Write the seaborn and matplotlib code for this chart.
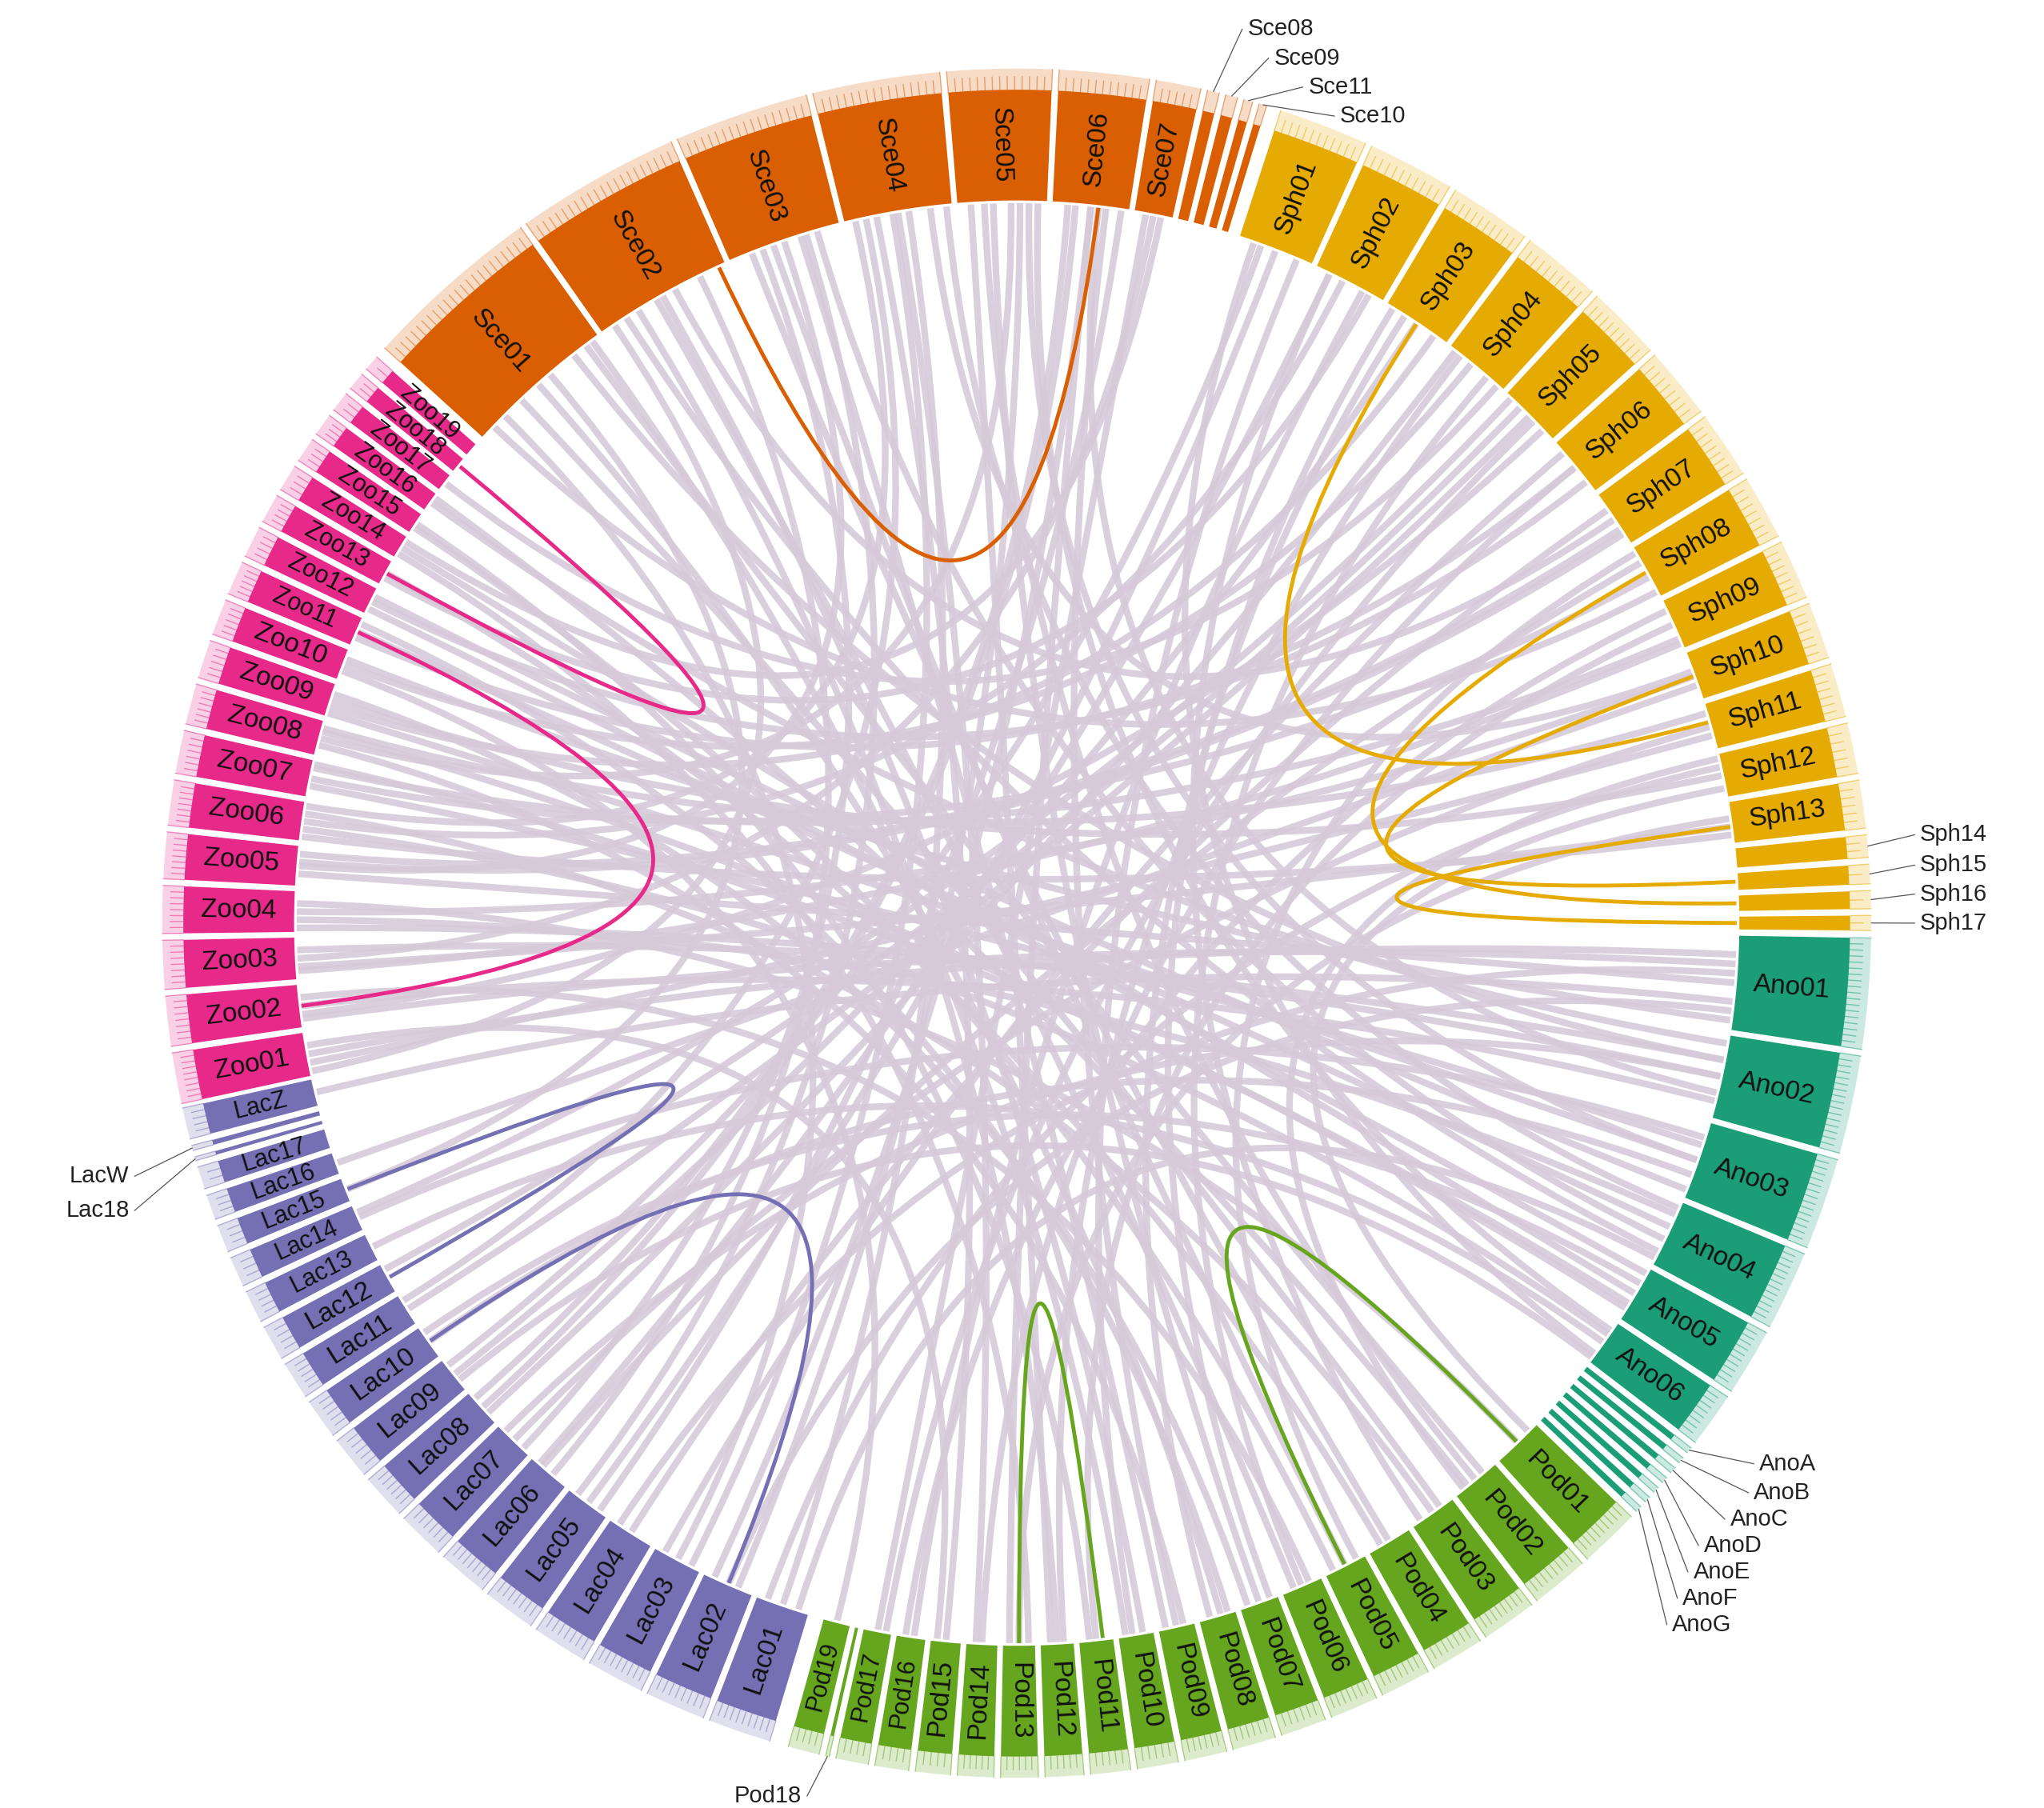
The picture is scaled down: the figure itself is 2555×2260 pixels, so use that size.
import numpy as np
import matplotlib
matplotlib.use("Agg")
import matplotlib.pyplot as plt
import seaborn as sns
from matplotlib.patches import PathPatch
from matplotlib.path import Path

sns.set_theme(style="white")
plt.rcParams['font.family'] = ['Liberation Sans', 'DejaVu Sans']

sce_names = "Sce01 Sce02 Sce03 Sce04 Sce05 Sce06 Sce07 Sce08 Sce09 Sce11 Sce10".split()
sce_len = [12, 11, 9, 8.5, 7, 6, 3, 0.8, 0.8, 0.6, 0.5]
sph_names = "Sph01 Sph02 Sph03 Sph04 Sph05 Sph06 Sph07 Sph08 Sph09 Sph10 Sph11 Sph12 Sph13 Sph14 Sph15 Sph16 Sph17".split()
sph_len = [6, 5.8, 5.5, 5.3, 5, 4.8, 4.5, 4.3, 4, 3.8, 3.6, 3.4, 3.2, 1.5, 1.3, 1.2, 1.0]
ano_names = "Ano01 Ano02 Ano03 Ano04 Ano05 Ano06 AnoA AnoB AnoC AnoD AnoE AnoF AnoG".split()
ano_len = [9, 8, 7.5, 6.5, 5.5, 4.5, 0.5, 0.5, 0.5, 0.5, 0.5, 0.5, 0.5]
pod_names = "Pod01 Pod02 Pod03 Pod04 Pod05 Pod06 Pod07 Pod08 Pod09 Pod10 Pod11 Pod12 Pod13 Pod14 Pod15 Pod16 Pod17 Pod18 Pod19".split()
pod_len = [5, 4.8, 4.6, 4.4, 4.2, 4, 3.8, 3.6, 3.5, 3.4, 3.3, 3.2, 3.1, 3.0, 2.9, 2.8, 2.7, 0.3, 2.6]
lac_names = "Lac01 Lac02 Lac03 Lac04 Lac05 Lac06 Lac07 Lac08 Lac09 Lac10 Lac11 Lac12 Lac13 Lac14 Lac15 Lac16 Lac17 Lac18 LacW LacZ".split()
lac_len = [5, 4.8, 4.6, 4.4, 4.2, 4, 3.8, 3.6, 3.4, 3.2, 3, 2.8, 2.6, 2.4, 2.2, 2.0, 1.8, 0.3, 0.4, 2.5]
zoo_names = "Zoo01 Zoo02 Zoo03 Zoo04 Zoo05 Zoo06 Zoo07 Zoo08 Zoo09 Zoo10 Zoo11 Zoo12 Zoo13 Zoo14 Zoo15 Zoo16 Zoo17 Zoo18 Zoo19".split()
zoo_len = [4.5, 4.4, 4.3, 4.2, 4.1, 4, 3.8, 3.6, 3.4, 3.2, 3, 2.8, 2.6, 2.4, 2.2, 2, 1.8, 1.6, 1.4]

group_span = [(137.7, 73.0), (72.0, -0.5), (-1.0, -43.5), (-44.0, -105.5), (-106.8, -167.5), (-167.8, -221.5)]

grey_links = """Sce01 .2 Lac03 .5;Sce01 .5 Pod08 .4;Sce01 .8 Ano02 .3;Sce02 .3 Pod12 .5;Sce02 .6 Sph07 .5;
Sce02 .8 Lac06 .4;Sce03 .2 Pod04 .5;Sce03 .5 Zoo05 .5;Sce03 .8 Ano04 .6;Sce04 .3 Pod15 .5;Sce04 .6 Lac01 .5;
Sce04 .8 Sph10 .4;Sce05 .3 Pod02 .5;Sce05 .6 Zoo08 .5;Sce05 .8 Ano03 .5;Sce06 .3 Lac08 .5;Sce06 .7 Pod09 .5;
Sce07 .5 Zoo03 .5;Sph01 .5 Lac05 .5;Sph01 .8 Pod10 .6;Sph02 .4 Zoo06 .5;Sph02 .7 Pod16 .4;Sph03 .5 Lac09 .5;
Sph04 .4 Zoo10 .5;Sph04 .7 Pod06 .5;Sph05 .5 Lac11 .5;Sph05 .8 Zoo02 .3;Sph06 .5 Pod14 .5;Sph06 .8 Zoo12 .5;
Sph07 .3 Lac04 .5;Sph08 .6 Zoo07 .5;Sph09 .5 Pod11 .5;Sph10 .5 Zoo04 .5;Sph11 .5 Lac07 .5;Sph12 .5 Zoo09 .5;
Sph13 .4 Pod13 .5;Ano01 .2 Zoo01 .5;Ano01 .5 Zoo05 .3;Ano01 .8 Lac02 .5;Ano02 .3 Zoo03 .7;Ano02 .7 Sce06 .6;
Ano03 .3 Zoo07 .3;Ano03 .7 Lac10 .5;Ano04 .4 Zoo11 .5;Ano04 .8 Sce02 .2;Ano05 .5 Zoo14 .5;Ano06 .5 Lac13 .5;
Pod01 .5 Zoo04 .7;Pod02 .3 Sce01 .9;Pod03 .5 Zoo06 .7;Pod03 .8 Sph02 .2;Pod04 .7 Zoo13 .5;Pod05 .5 Sce03 .4;
Pod06 .3 Zoo02 .7;Pod07 .5 Sce05 .4;Pod07 .8 Zoo09 .7;Pod08 .7 Sph03 .3;Pod09 .3 Zoo08 .3;Pod10 .3 Sce02 .5;
Pod11 .7 Zoo15 .5;Pod12 .3 Sph04 .2;Pod14 .7 Sce04 .5;Pod15 .8 Zoo01 .7;Pod16 .7 Sph09 .2;Pod17 .5 Sce07 .3;
Pod19 .5 Zoo10 .3;Lac01 .8 Sph12 .3;Lac02 .3 Sce05 .7;Lac03 .8 Sph06 .2;Lac04 .8 Ano01 .4;Lac05 .8 Sce03 .7;
Lac06 .7 Sph08 .3;Lac07 .8 Ano02 .5;Lac08 .8 Sce06 .2;Lac09 .8 Sph01 .3;Lac10 .8 Ano05 .3;Lac11 .8 Sce04 .2;
Lac12 .8 Sph05 .3;Lac14 .5 Ano03 .2;Lac15 .5 Sce01 .6;Lac16 .5 Sph10 .7;LacZ .5 Ano01 .7;Zoo01 .3 Sph11 .7;
Zoo02 .5 Ano02 .8;Zoo03 .3 Sph13 .6;Zoo04 .3 Ano04 .2;Zoo05 .8 Sph07 .7;Zoo06 .3 Ano06 .3;Zoo07 .8 Sph09 .8;
Zoo08 .7 Ano05 .8;Zoo09 .3 Sph03 .8;Zoo10 .7 Ano01 .9;Zoo11 .3 Sph06 .5;Zoo12 .7 Ano03 .9;Zoo13 .3 Sph02 .8;
Zoo14 .8 Sce07 .7;Zoo16 .5 Ano02 .1;Zoo17 .5 Sph04 .9;Zoo15 .3 Pod05 .8;Zoo16 .8 Pod02 .7;Sce01 .1 Sph08 .9;
Sce06 .9 Lac05 .2;Sph01 .2 Ano06 .8;Sph12 .8 Pod01 .2;Sce02 .1 Zoo01 .1;Sph05 .1 Lac14 .7;Ano04 .9 Lac01 .2;
Sce03 .3 Lac07 .2;Sce04 .1 Zoo06 .9;Sph03 .1 Pod07 .2;Ano05 .1 Zoo12 .2;Pod13 .8 Sce06 .5;Lac09 .3 Ano06 .9;
Sce01 .35 Pod03 .3;Sce02 .45 Pod06 .7;Sce03 .65 Pod09 .8;Sce05 .15 Pod12 .7;Sce04 .45 Lac03 .2;Sce06 .5 Lac02 .8;
Sph02 .2 Lac06 .8;Sph04 .1 Lac08 .3;Sph07 .8 Zoo05 .6;Sph09 .9 Zoo03 .2;Sph11 .2 Zoo08 .8;Sph13 .8 Zoo06 .1;
Ano01 .3 Zoo02 .2;Ano02 .5 Zoo04 .1;Ano03 .5 Zoo09 .1;Ano05 .7 Zoo07 .9;Ano06 .2 Sce05 .9;Ano04 .1 Sce04 .95;
Pod02 .8 Sph12 .1;Pod05 .2 Sph08 .1;Pod08 .2 Zoo11 .8;Pod10 .8 Sce01 .95;Pod13 .2 Zoo14 .2;Pod17 .2 Sph05 .6"""

color_links = [("Sce02", .95, "Sce06", .6, 0), ("Sph03", .5, "Sph11", .4, 1), ("Sph08", .5, "Sph16", .5, 1),
               ("Sph13", .6, "Sph17", .5, 1), ("Sph10", .5, "Sph15", .5, 1),
               ("Zoo18", .5, "Zoo13", .5, 5), ("Zoo11", .5, "Zoo02", .5, 5),
               ("Lac15", .5, "Lac12", .5, 4), ("Lac10", .5, "Lac02", .5, 4),
               ("Pod13", .5, "Pod11", .3, 3), ("Pod05", .5, "Pod01", .5, 3)]

outside = {"Sce08": (942, 22, 'left'), "Sce09": (962, 44, 'left'), "Sce11": (988, 66, 'left'),
           "Sce10": (1012, 88, 'left'), "Sph14": (1452, 633, 'left'), "Sph15": (1452, 656, 'left'),
           "Sph16": (1452, 678, 'left'), "Sph17": (1452, 700, 'left'), "AnoA": (1330, 1110, 'left'),
           "AnoB": (1326, 1132, 'left'), "AnoC": (1308, 1152, 'left'), "AnoD": (1288, 1172, 'left'),
           "AnoE": (1280, 1192, 'left'), "AnoF": (1272, 1212, 'left'), "AnoG": (1264, 1232, 'left'),
           "Pod18": (612, 1362, 'right'), "LacW": (102, 892, 'right'), "Lac18": (102, 918, 'right')}

pal = sns.color_palette("Dark2", 6)
gcol = [pal[1], pal[5], pal[0], pal[4], pal[2], pal[3]]
groups = [(sce_names, sce_len, gcol[0]), (sph_names, sph_len, gcol[1]), (ano_names, ano_len, gcol[2]),
          (pod_names, pod_len, gcol[3]), (lac_names, lac_len, gcol[4]), (zoo_names, zoo_len, gcol[5])]

cx, cy = 771, 700
R0, R1, R2 = 548, 632, 648
gap = 0.45
chrom = {}
for (names, lens, c), (gs, ge) in zip(groups, group_span):
    unit = ((gs - ge) - gap * (len(names) - 1)) / sum(lens)
    a = gs
    for n, l in zip(names, lens):
        chrom[n] = (a, a - l * unit, c, l)
        a -= l * unit + gap

def pt(ang, r):
    t = np.deg2rad(ang)
    return cx + r * np.cos(t), cy - r * np.sin(t)

def pos(n, f):
    a0, a1, _, _ = chrom[n]
    return a0 + (a1 - a0) * f

fig = plt.figure(figsize=(25.55, 22.6), dpi=100)
ax = fig.add_axes([0, 0, 1, 1])
ax.set_xlim(0, 1550)
ax.set_ylim(1371, 0)
ax.set_aspect('equal')
ax.axis('off')

def link(n1, f1, n2, f2, col, lw, k, alpha, z):
    p1 = np.array(pt(pos(n1, f1), R0 - 2))
    p2 = np.array(pt(pos(n2, f2), R0 - 2))
    c = np.array([cx, cy]) + ((p1 + p2) / 2 - np.array([cx, cy])) * k
    path = Path([p1, c, p2], [Path.MOVETO, Path.CURVE3, Path.CURVE3])
    ax.add_patch(PathPatch(path, fc='none', ec=col, lw=lw, alpha=alpha, zorder=z))

for s in grey_links.replace("\n", "").split(";"):
    n1, f1, n2, f2 = s.split()
    link(n1, float(f1), n2, float(f2), '#d6cad9', 6, 0.0, 0.9, 1)

for n1, f1, n2, f2, gi in color_links:
    link(n1, f1, n2, f2, gcol[gi], 3.5, 0.06, 1.0, 3)

for n, (a0, a1, c, l) in chrom.items():
    ang = np.linspace(a0, a1, 30)
    xo, yo = pt(ang, R1)
    xi, yi = pt(ang[::-1], R0)
    ax.fill(np.r_[xo, xi], np.r_[yo, yi], color=c, lw=0, zorder=4)
    xo, yo = pt(ang, R2)
    xi, yi = pt(ang[::-1], R1)
    ax.fill(np.r_[xo, xi], np.r_[yo, yi], color=c, alpha=0.22, lw=0, zorder=4)
    nt = max(int(l / 0.5), 1)
    for tf in np.linspace(0, 1, nt + 1):
        ta = a0 + (a1 - a0) * tf
        x0, y0 = pt(ta, R1)
        x1, y1 = pt(ta, R2 - (0 if tf in (0, 1) else 6))
        ax.plot([x0, x1], [y0, y1], color=c, alpha=0.5, lw=1, zorder=4)
    mid = (a0 + a1) / 2
    if n in outside:
        lx, ly, ha = outside[n]
        x0, y0 = pt(mid, R2)
        ax.plot([x0, lx], [y0, ly], color='#555555', lw=0.9, zorder=5)
        ax.text(lx + (4 if ha == 'left' else -4), ly, n, ha=ha, va='center', fontsize=21, color='#222222')
    else:
        rot = mid if -90 <= mid <= 90 else mid - 180
        if mid < -90:
            rot = mid + 180
        width = (a0 - a1) * np.deg2rad(1) * 590
        fs = 24 if width > 24 else 22
        tx, ty = pt(mid, 590)
        ax.text(tx, ty, n, rotation=rot, ha='center', va='center', fontsize=fs,
                color='#111111', rotation_mode='anchor', zorder=6)

fig.savefig("out.png", dpi=100, facecolor='white')
